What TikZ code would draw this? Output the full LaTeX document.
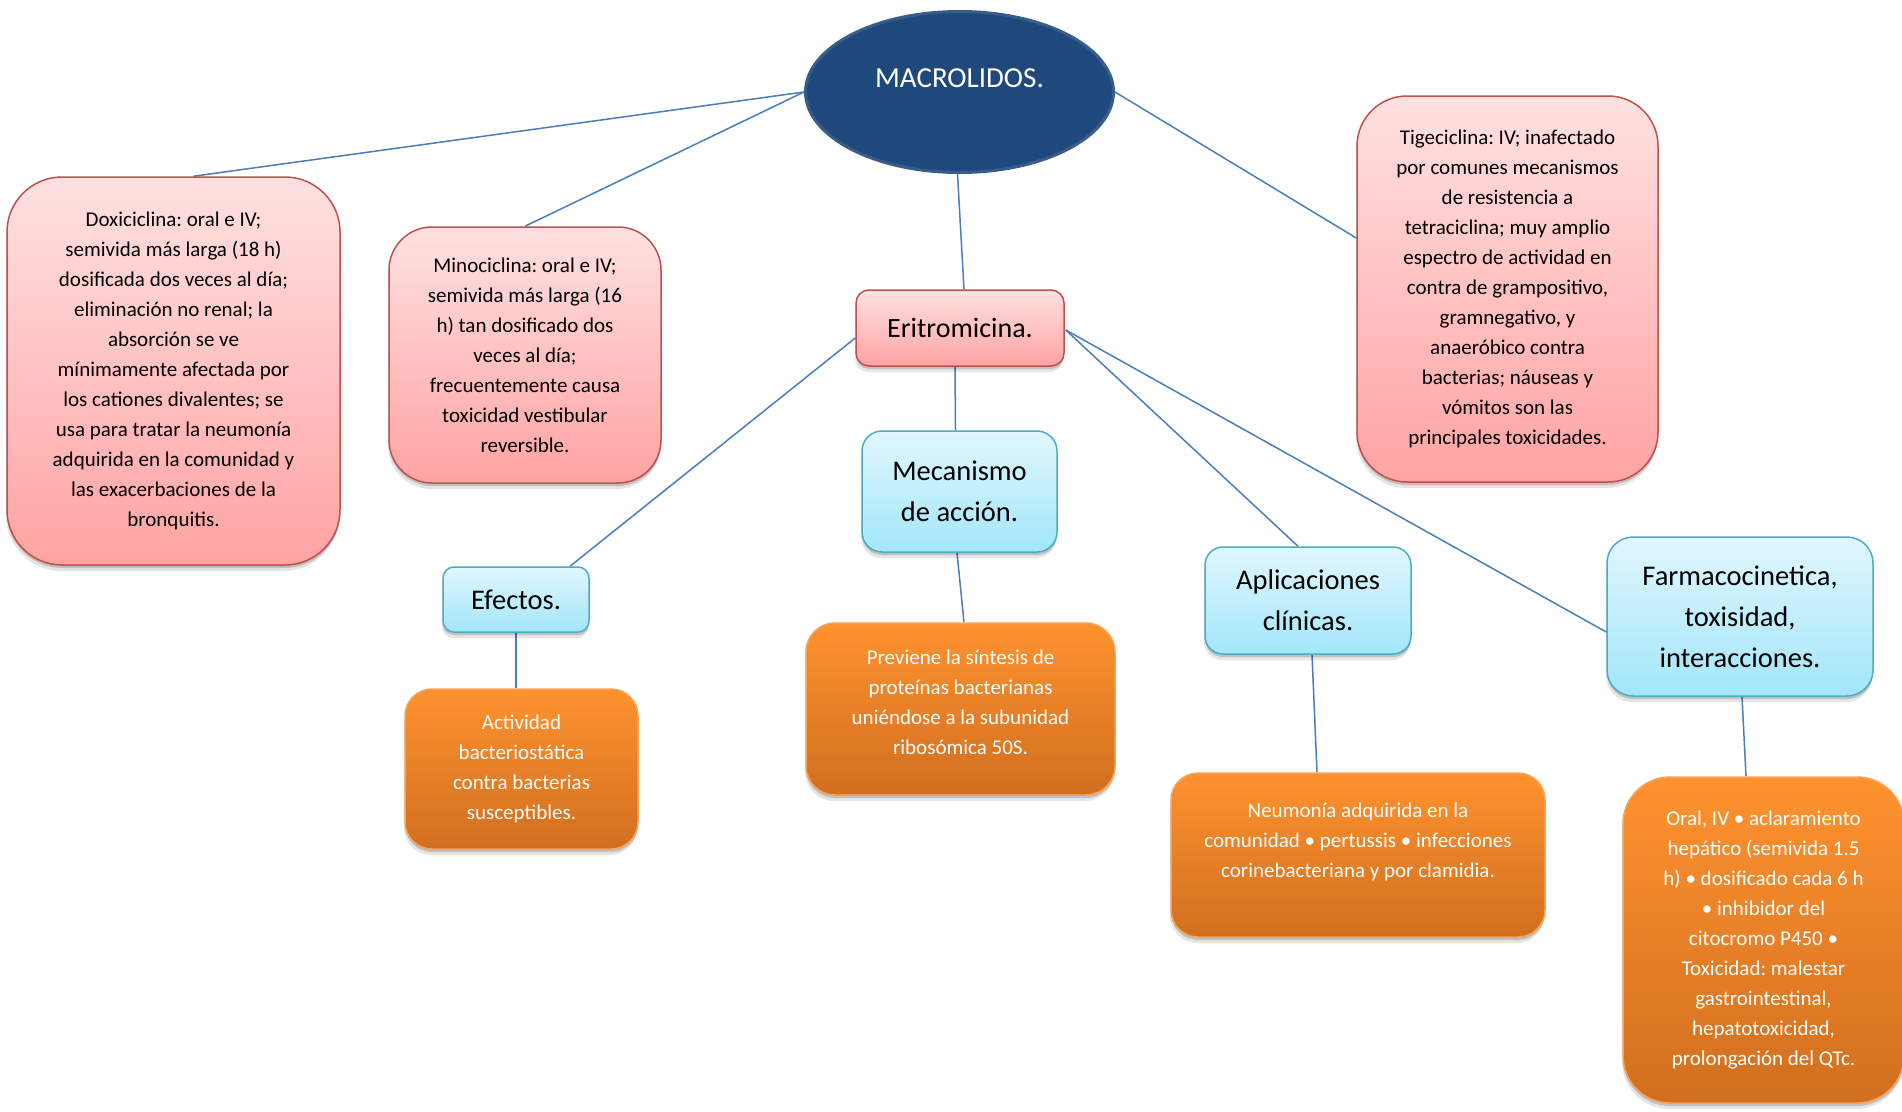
\documentclass[tikz,border=0pt]{standalone}
\usepackage{fontspec}
\setmainfont{Carlito}
\frenchspacing
\usetikzlibrary{shapes.geometric,shadows,calc,backgrounds}
\definecolor{navy}{HTML}{1F497D}
\definecolor{navyedge}{HTML}{385D8A}
\definecolor{redtop}{HTML}{FFE1E1}
\definecolor{redbot}{HTML}{FFA3A3}
\definecolor{rededge}{HTML}{C0504D}
\definecolor{bluetop}{HTML}{E1F7FE}
\definecolor{bluebot}{HTML}{A2E6FA}
\definecolor{blueedge}{HTML}{4BACC6}
\definecolor{ortop}{HTML}{FE922F}
\definecolor{orbot}{HTML}{D16F1F}
\definecolor{oredge}{HTML}{F8A256}
\definecolor{linkc}{HTML}{4A7EBB}
\begin{document}
\begin{tikzpicture}[x=1pt,y=-1pt,
  softshadow/.style={drop shadow={shadow xshift=0pt,shadow yshift=-3pt,opacity=0.16,fill=black},
                     drop shadow={shadow xshift=-1pt,shadow yshift=-6pt,opacity=0.10,fill=black}},
  basebox/.style={rectangle, inner sep=0pt, align=center, softshadow, line width=1.5pt},
  redbox/.style={basebox, top color=redtop, bottom color=redbot, draw=rededge,
                 font=\fontsize{21}{30}\selectfont},
  bluebox/.style={basebox, top color=bluetop, bottom color=bluebot, draw=blueedge,
                  font=\fontsize{28.5}{41}\selectfont},
  orbox/.style={basebox, top color=ortop, bottom color=orbot, draw=oredge, text=white,
                font=\fontsize{21}{30}\selectfont},
  ortext/.style={text=white, align=center, inner sep=0pt, font=\fontsize{21}{30}\selectfont},
  link/.style={draw=linkc, line width=1.5pt},
]
\useasboundingbox (0,0) rectangle (1902,1111);

% central ellipse
\node[ellipse, minimum width=308pt, minimum height=161pt, inner sep=0pt,
      fill=navy, draw=navyedge, line width=3pt, text=white,
      font=\fontsize{29}{35}\selectfont, text height=20pt, text depth=30pt]
  (mac) at (959.5,92) {MACROLIDOS.};

% red boxes
\node[redbox, minimum width=333pt, minimum height=388pt, rounded corners=55pt]
  (doxi) at (173.5,371) {Doxiciclina: oral e IV;\\semivida más larga (18 h)\\dosificada dos veces al día;\\eliminación no renal; la\\absorción se ve\\mínimamente afectada por\\los cationes divalentes; se\\usa para tratar la neumonía\\adquirida en la comunidad y\\las exacerbaciones de la\\bronquitis.};
\node[redbox, minimum width=272pt, minimum height=256pt, rounded corners=43pt]
  (mino) at (525,355) {Minociclina: oral e IV;\\semivida más larga (16\\h) tan dosificado dos\\veces al día;\\frecuentemente causa\\toxicidad vestibular\\reversible.};
\node[redbox, minimum width=301pt, minimum height=386pt, rounded corners=50pt]
  (tige) at (1507.5,289) {Tigeciclina: IV; inafectado\\por comunes mecanismos\\de resistencia a\\tetraciclina; muy amplio\\espectro de actividad en\\contra de grampositivo,\\gramnegativo, y\\anaeróbico contra\\bacterias; náuseas y\\vómitos son las\\principales toxicidades.};
\node[redbox, minimum width=208pt, minimum height=76pt, rounded corners=13pt,
      font=\fontsize{28}{41}\selectfont]
  (eri) at (960,328) {Eritromicina.};

% blue boxes
\node[bluebox, minimum width=146pt, minimum height=65pt, rounded corners=11pt]
  (efe) at (516,599.5) {Efectos.};
\node[bluebox, minimum width=195pt, minimum height=121pt, rounded corners=20pt]
  (mec) at (959.5,491.5) {Mecanismo\\de acción.};
\node[bluebox, minimum width=206pt, minimum height=107pt, rounded corners=18pt]
  (apl) at (1308,600.5) {Aplicaciones\\clínicas.};
\node[bluebox, minimum width=266pt, minimum height=159pt, rounded corners=26pt]
  (far) at (1740,616.5) {Farmacocinetica,\\toxisidad,\\interacciones.};

% orange boxes
\node[orbox, minimum width=233pt, minimum height=160pt, rounded corners=27pt]
  (act) at (521.5,769) {Actividad\\bacteriostática\\contra bacterias\\susceptibles.};
\node[orbox, minimum width=309pt, minimum height=172pt, rounded corners=29pt,
      label={[ortext, yshift=7pt]center:{Previene la síntesis de\\proteínas bacterianas\\uniéndose a la subunidad\\ribosómica 50S.}}]
  (prev) at (960.5,709) {};
\node[orbox, minimum width=374pt, minimum height=164pt, rounded corners=27pt,
      label={[ortext, yshift=13pt]center:{Neumonía adquirida en la\\comunidad • pertussis • infecciones\\corinebacteriana y por clamidia.}}]
  (neu) at (1358,855) {};
\node[orbox, minimum width=281pt, minimum height=326pt, rounded corners=47pt]
  (faro) at (1763.5,940) {Oral, IV • aclaramiento\\hepático (semivida 1.5\\h) • dosificado cada 6 h\\• inhibidor del\\citocromo P450 •\\Toxicidad: malestar\\gastrointestinal,\\hepatotoxicidad,\\prolongación del QTc.};

% connectors
\begin{scope}[on background layer]
  \fill[white] (0,0) rectangle (1902,1111);
  \draw[link] (mac.west) -- ($(doxi.north)+(20,0)$);
  \draw[link] (mac.west) -- (mino.north);
  \draw[link] (mac.east) -- ($(tige.west)+(0,-51)$);
  \draw[link] ($(mac.south)+(-2,0)$) -- ($(eri.north)+(4,0)$);
  \draw[link] ($(eri.west)+(0,10)$) -- ($(efe.north)+(54,0)$);
  \draw[link] ($(eri.south)+(-5,0)$) -- ($(mec.north)+(-4,0)$);
  \draw[link] ($(eri.east)+(1,2)$) -- ($(apl.north)+(-10,0)$);
  \draw[link] ($(eri.east)+(1,2)$) -- ($(far.west)+(0,15.5)$);
  \draw[link] (efe.south) -- (efe.south |- act.north);
  \draw[link] ($(mec.south)+(-2.5,0)$) -- ($(prev.north)+(3.5,0)$);
  \draw[link] ($(apl.south)+(4,0)$) -- ($(neu.north)+(-41,0)$);
  \draw[link] ($(far.south)+(2,0)$) -- ($(faro.north)+(-17.5,0)$);
\end{scope}
\end{tikzpicture}
\end{document}
